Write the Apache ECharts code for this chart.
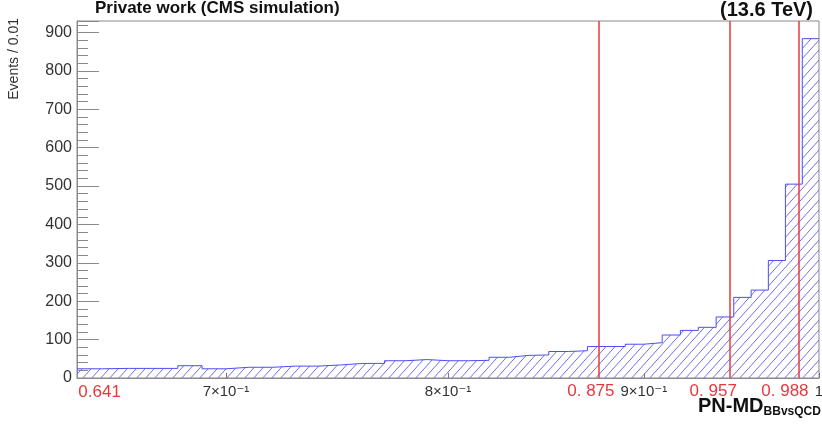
<!DOCTYPE html>
<html>
<head>
<meta charset="utf-8">
<script src="https://cdn.jsdelivr.net/npm/echarts@6/dist/echarts.min.js"></script>
<style>
html,body{margin:0;padding:0;background:#ffffff;}
#chart{width:822px;height:427px;}
</style>
</head>
<body>
<div id="chart"></div>
<script>
// ---- data ----
const binStart = 0.64;
const binWidth = 0.01;
const counts = [
  24, 25, 25, 25, 32, 24, 28, 28, 31, 31,
  34, 38, 38, 45, 48, 45, 45, 46, 54, 59,
  60, 69, 71, 82, 82, 88, 92, 112, 124, 132,
  159, 210, 229, 306, 505, 884
];
const xMin = 0.64;
const xMax = 1.0;
const yMax = 930;
const xTickValues = [0.7, 0.8, 0.9, 1];
const xTickLabels = ['7×10⁻¹', '8×10⁻¹', '9×10⁻¹', '1'];
const startValue = 0.641;
const startLabel = '0.641';
const cutValues = [0.876, 0.948, 0.988];
const cutLabels = ['0. 875', '0. 957', '0. 988'];

// ---- build step series from bins ----
const stepData = counts.map((c, i) => [+(binStart + i * binWidth).toFixed(2), c]);
stepData.push([+(binStart + counts.length * binWidth).toFixed(2), counts[counts.length - 1]]);

// ---- hatch pattern ----
function makeHatch() {
  const w = 9, h = 10;
  const cv = document.createElement('canvas');
  cv.width = w; cv.height = h;
  const ctx = cv.getContext('2d');
  ctx.strokeStyle = '#6f6ff0';
  ctx.lineWidth = 1;
  for (let k = 0; k <= 2; k++) {
    ctx.beginPath();
    ctx.moveTo(k * w + w, -h);
    ctx.lineTo(k * w - w, h);
    ctx.stroke();
  }
  return cv;
}

const FONT = "'Liberation Sans', Arial, 'DejaVu Sans', sans-serif";
const RED = '#e8383b';
const FRAME = '#8a8a8a';
const labelShift = [-8, -17, -14];

const chart = echarts.init(document.getElementById('chart'), null, {renderer: 'canvas'});
chart.setOption({
  animation: false,
  backgroundColor: '#ffffff',
  grid: {left: 77, right: 3, top: 21, bottom: 49, show: true, borderColor: FRAME, borderWidth: 1,
         containLabel: false, outerBoundsMode: 'none'},
  title: [
    {text: 'Private work (CMS simulation)', left: 95, top: 0, padding: 0,
     textStyle: {fontFamily: FONT, fontWeight: 'bold', fontSize: 17, color: '#111'}},
    {text: '(13.6 TeV)', right: 9, top: 0, padding: 0,
     textStyle: {fontFamily: FONT, fontWeight: 'bold', fontSize: 20, color: '#111'}},
    {text: '{a|PN-MD}{b|BBvsQCD}', left: 698, top: 396, padding: 0,
     textStyle: {fontFamily: FONT, rich: {
       a: {fontFamily: FONT, fontWeight: 'bold', fontSize: 20, color: '#111', lineHeight: 22, verticalAlign: 'top'},
       b: {fontFamily: FONT, fontWeight: 'bold', fontSize: 12, color: '#111', lineHeight: 22, verticalAlign: 'bottom', padding: [8, 0, 0, 0]}
     }}}
  ],
  graphic: [
    {type: 'text', x: 14, y: 18, rotation: Math.PI / 2,
     style: {text: 'Events / 0.01', align: 'right', verticalAlign: 'middle',
             font: "14px 'Liberation Sans', Arial, sans-serif", fill: '#333'}}
  ],
  xAxis: {
    type: 'log', logBase: 10, min: xMin, max: xMax,
    axisLine: {show: true, lineStyle: {color: FRAME}},
    splitLine: {show: false},
    minorTick: {show: false},
    axisTick: {show: true, inside: true, length: 5, customValues: xTickValues, lineStyle: {color: '#777'}},
    axisLabel: {
      customValues: [startValue].concat(xTickValues),
      margin: 6,
      formatter: function (v) {
        if (Math.abs(v - startValue) < 1e-6) return '{r|' + startLabel + '}';
        let idx = -1;
        xTickValues.forEach((t, i) => { if (Math.abs(t - v) < 1e-6) idx = i; });
        return idx >= 0 ? '{k|' + xTickLabels[idx] + '}' : '';
      },
      rich: {
        r: {fontFamily: FONT, fontSize: 17, color: RED, padding: [0, 0, 0, 40]},
        k: {fontFamily: FONT, fontSize: 15, color: '#333'}
      }
    }
  },
  yAxis: {
    type: 'value', min: 0, max: yMax, interval: 100,
    axisLine: {show: true, lineStyle: {color: FRAME}},
    axisTick: {show: true, inside: true, length: 22, lineStyle: {color: FRAME}},
    minorTick: {show: true, splitNumber: 5, length: 11, lineStyle: {color: FRAME}},
    splitLine: {show: false},
    minorSplitLine: {show: false},
    axisLabel: {showMaxLabel: false, fontFamily: FONT, fontSize: 16, color: '#333', margin: 5}
  },
  series: [{
    type: 'line',
    data: stepData,
    step: 'end',
    symbol: 'none',
    z: 2,
    lineStyle: {color: '#4d4df2', width: 1},
    areaStyle: {color: {image: makeHatch(), repeat: 'repeat'}, opacity: 1}
  }, {
    type: 'line',
    data: [],
    symbol: 'none',
    z: 3,
    markLine: {
      symbol: 'none', silent: true, animation: false, precision: 4,
      lineStyle: {color: RED, width: 1.5, type: 'solid', opacity: 1},
      emphasis: {disabled: true},
      label: {show: true, position: 'start', distance: 5, fontFamily: FONT, fontSize: 17, color: RED},
      data: cutValues.map((v, i) => ({xAxis: v, lineStyle: {color: RED}, label: {formatter: cutLabels[i], offset: [labelShift[i], 0]}}))
    }
  }]
});
</script>
</body>
</html>
